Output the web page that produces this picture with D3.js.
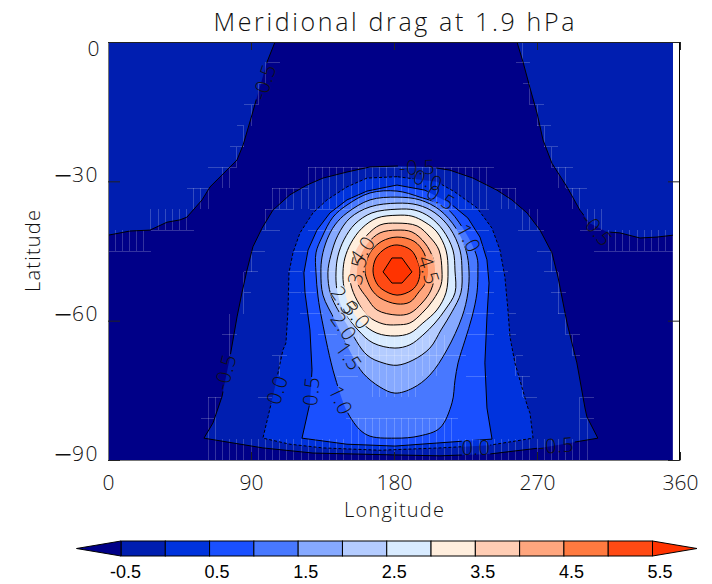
<!DOCTYPE html>
<html><head><meta charset="utf-8">
<script src="https://cdn.jsdelivr.net/npm/d3@7"></script>
<style>html,body{margin:0;padding:0;background:#fff}svg{display:block}</style></head>
<body><div id="c"></div>
<script>
const title="Meridional drag at 1.9 hPa";
const xTicks=[0,90,180,270,360], yTicks=[0,-30,-60,-90];
const levels=[-0.5,0,0.5,1,1.5,2,2.5,3,3.5,4,4.5,5,5.5];
const cbarLabels=[-0.5,0.5,1.5,2.5,3.5,4.5,5.5];
const belowColor="#000088", aboveColor="#ff3300";
const bandColors=["#001eb0","#0033dd","#1a50ff","#4878ff","#86a9ff","#b4ccff","#d8ebff","#ffeedd","#ffcdb4","#ffa67e","#ff7a40","#ff4a14"];
const blobLeft=[[0,0],[105.1,0],[100.1,-4.3],[93.8,-11.8],[90.6,-15.7],[85,-22.2],[81.2,-25.4],[76.8,-26.9],[64.2,-31.2],[59.2,-34],[49.7,-37.7],[45.3,-38.3],[37.1,-38.8],[26.4,-40.5],[13.8,-40.7],[0,-41.6]];
const blobRight=[[355.5,0],[257.4,0],[261.2,-4.3],[265.6,-9.9],[270,-15.3],[273.8,-21.1],[279.4,-26.1],[288.9,-31.2],[297,-36.2],[303.3,-39],[314,-40.9],[322.2,-41.1],[334.8,-42.2],[345.5,-42],[355.5,-41.6]];
const hillM05=[[164.9,-26.9],[150.4,-28],[135.3,-29.3],[125.2,-30.8],[114.5,-32.9],[103.8,-36.2],[96.9,-40.1],[91.2,-44.1],[87.5,-49.1],[84.3,-54],[81.2,-59.2],[76.8,-67.8],[71.7,-76.4],[66.1,-82],[60.4,-85.3],[97.5,-87.4],[129,-88.5],[179.3,-88.9],[208.9,-89.1],[240.4,-88.7],[271.9,-87.4],[308.3,-85.3],[301.4,-80.7],[300.2,-78.8],[295.1,-69.1],[288.9,-60.5],[283.2,-50.6],[279.4,-45.4],[271.9,-40.5],[263.7,-36.8],[254.2,-34],[244.8,-31.9],[229.7,-29.3],[215.2,-27.6],[202.6,-26.9],[181.9,-26.7]];
const hill00=[[181.9,-29],[163,-29.3],[150.4,-31.2],[137.8,-34],[129,-36.8],[120.8,-41.1],[116.4,-45.4],[113.9,-49.7],[113.3,-57.7],[112,-64.8],[110.1,-66.3],[105.1,-74.3],[100.7,-80.7],[97.5,-85.3],[114.5,-86.6],[135.3,-87.4],[171.2,-87.9],[208.9,-87.4],[240.4,-86.8],[267.5,-85.3],[265.6,-79.9],[264.3,-78.8],[256.1,-69.1],[253,-63.5],[251.7,-57.7],[249.8,-50.6],[246.7,-44.8],[241.7,-40.1],[232.2,-35.7],[218.4,-32.3],[207,-30.1]];
const hill05=[[181.9,-30.8],[163,-32.1],[150.4,-34],[139.7,-36.8],[131.5,-40.5],[125.9,-44.8],[123.3,-49.7],[124,-54],[127.1,-62],[128.4,-70.6],[127.1,-77.7],[122.1,-85.3],[150.4,-86.6],[180.6,-87],[208.9,-86.3],[241.7,-85.5],[238.5,-78.8],[237.2,-69.1],[238.5,-59.2],[239.8,-51.9],[238.5,-46.9],[234.1,-42],[226.5,-37.9],[215.2,-34.7],[199.5,-31.9]];
const hill10=[[181.9,-32.1],[164.9,-32.5],[150.4,-35.1],[141.6,-37.7],[134.7,-42],[130.9,-45.4],[130.9,-49.7],[132.2,-54.9],[134.7,-59.9],[142.8,-72.1],[152.3,-80.7],[163,-84.6],[180.6,-85.3],[196.3,-84.8],[208.9,-83.1],[216.5,-77.7],[218.4,-72.8],[220.3,-69.1],[224.7,-64.2],[229.1,-59.2],[232.2,-54],[232.8,-49.3],[232.2,-46.3],[223.4,-40.1],[212.1,-35.5],[196.3,-33.4]];
const hill15=[[181.9,-33.4],[164.9,-34],[150.4,-36.8],[142.8,-39.4],[137.8,-42.6],[134.7,-46.3],[134,-49.7],[135.3,-54.5],[142.8,-59.9],[147.9,-63.5],[154.2,-67.8],[160.5,-71.3],[171.2,-74.3],[180.6,-75.6],[191.9,-74.5],[202.6,-71.7],[213.3,-66.3],[222.8,-59.2],[226.5,-54],[227.2,-49.3],[225.3,-44.8],[219,-40.1],[208.9,-36.2],[196.3,-34]];
const hill20=[[181.9,-34.7],[164.9,-35.5],[152.3,-37.9],[144.7,-41.6],[140.3,-45.9],[138.4,-49.7],[140.3,-54.5],[150.4,-60.9],[163,-67.4],[173.1,-69.1],[181.9,-69.6],[191.9,-68.5],[202.6,-65.9],[209.6,-62],[216.5,-58.1],[222.1,-54],[222.8,-49.3],[221.5,-44.8],[215.2,-40.1],[205.8,-36.8],[195.1,-35.1]];
const hill25=[[181.9,-36],[166.1,-36.8],[155.4,-39.2],[148.5,-42.6],[144.7,-46.1],[143.5,-49.5],[144.1,-53.4],[147.9,-57.7],[157.3,-62],[166.8,-64.8],[180.6,-65.9],[190,-65.2],[198.2,-63.1],[205.8,-60.5],[212.1,-57.7],[218.4,-54],[218.4,-49.3],[217.1,-44.8],[210.8,-40.5],[202.6,-37.7],[193.2,-36.2]];
const hill30=[[181.9,-37.3],[169.3,-37.9],[159.8,-40.1],[152.9,-43.3],[149.1,-46.5],[147.9,-49.5],[148.5,-52.8],[152.3,-57.1],[159.8,-60.5],[169.3,-62.7],[180.6,-63.3],[190,-62.7],[198.2,-60.5],[207,-57.7],[212.7,-54],[214,-49.3],[212.7,-44.8],[207,-40.9],[199.5,-38.8],[191.3,-37.5]];
const hill35=[[181.9,-39],[171.2,-39.4],[163,-41.6],[156.1,-44.8],[152.3,-49.5],[152.9,-52.3],[156.7,-55.6],[163.6,-59],[173.1,-60.7],[181.9,-60.9],[190,-60.5],[197.6,-58.4],[204.5,-55.6],[209.6,-52.3],[210.2,-49.3],[208.3,-44.8],[202.6,-42],[194.5,-39.6]];
const hill40=[[156.7,-49.3],[157.3,-52.1],[163,-55.1],[169.3,-57.7],[181.9,-58.8],[190,-58.4],[197.6,-56.2],[203.3,-53.4],[205.8,-49.5],[204.5,-46.5],[199.5,-43.3],[191.3,-40.9],[181.9,-40.5],[171.2,-41.1],[163.6,-43.3],[158.6,-46.3]];
const hill45=[[161.7,-49.3],[163.6,-51.7],[166.1,-53.4],[171.2,-55.1],[181.9,-56.4],[190,-56],[195.7,-53.8],[200.1,-51.7],[201.4,-49.1],[198.9,-45.4],[192.6,-42.9],[181.9,-42],[172.4,-42.9],[166.1,-44.8],[163,-46.9]];
const hill50=[[166.8,-49.3],[168.7,-51.7],[172.4,-53.2],[181.9,-54.5],[191.3,-53.4],[195.1,-51.7],[196.3,-49.3],[195.1,-47.4],[190.7,-44.8],[181.9,-43.7],[174.9,-44.4],[168.7,-46.5]];
const hill55=[[173.1,-49.5],[178.7,-46.5],[185,-46.5],[191.3,-49.5],[185,-51.9],[178.7,-51.9]];
const hills=[hillM05,hill00,hill05,hill10,hill15,hill20,hill25,hill30,hill35,hill40,hill45,hill50,hill55];
const labelText=["-0.5","-0.5","-0.5","0.0","0.5","1.0","4.0","3.5","4.5","2.5","3.0","2.0","1.5","1.0","0.5","0.0","-0.5","0.0","-0.5"];
const labelLon=[98.2,307.7,194.5,201.4,209.6,227.2,159.8,156.7,202,148.5,156.7,148.5,151.7,146.6,127.7,106.3,73.6,231.6,281.9];
const labelLat=[-8.6,-40.3,-26.9,-29.7,-33.4,-42.2,-44.8,-49.1,-49.1,-55.6,-58.8,-61.2,-67.6,-77.1,-75.2,-74.9,-71.1,-87.4,-86.8];
const labelAngle=[-72,50,-2,18,32,62,-55,-78,72,55,50,55,55,65,-85,-72,-75,0,-4];
// mesh seams: [lat, lon1, lon2] horizontals, [lat1, lat2, lon1, lon2] verticals every 4.5 degrees
const seamH=[[-4.5,99,108],[-9,94.5,99],[-13.5,85.5,94.5],[-18,81,85.5],[-22.5,76.5,85.5],[-27,63,81],[-31.5,49.5,63],[-40.5,27,54],[-45,0,27],
[-4.5,256.5,265.5],[-9,261,265.5],[-13.5,265.5,274.5],[-18,270,279],[-22.5,274.5,283.5],[-27,279,292.5],[-31.5,288,301.5],[-40.5,297,310.5],[-45,306,355.5],
[-27,126,243],[-31.5,103.5,126],[-31.5,243,256.5],[-36,99,117],[-45,90,99],[-45,270,279],[-49.5,85.5,94.5],[-49.5,274.5,283.5],[-54,85.5,90],[-54,279,288],[-58.5,283.5,288],[-63,72,81],[-63,288,297],[-67.5,292.5,297],[-40.5,97,108],[-40.5,258,274.5],[-76.5,63,72],[-81,58.5,67.5],[-76.5,297,306],[-81,297,306],
[-36,127,240],[-45,117,126],[-49.5,113,122],[-54,113,121.5],[-45,238.5,247.5],[-49.5,243,252],[-58.5,252,256.5],[-63,252,256.5],[-67.5,256.5,261],[-72,258,265.5],[-76.5,261,270],[-67.5,103.5,112.5],[-76.5,94.5,103.5],
[-40.5,126,144],[-40.5,220,240],[-49.5,127,144],[-49.5,220,240],[-54,122,131],[-54,237,243],[-58.5,121,135],[-58.5,225,243],[-63,132,144],[-63,225,243],[-67.5,148.5,225],[-72,144,157.5],[-72,225,238.5],[-81,150,220]];
const seamV=[[-4.5,-9,99,103.5],[-9,-13.5,94.5,99],[-13.5,-18,90,94.5],[-18,-22.5,85.5,90],[-22.5,-27,81,85.5],[-27,-31.5,72,81],[-31.5,-36,54,67.5],[-36,-40.5,27,54],[-40.5,-45,0,27],
[0,-4.5,261,265.5],[-9,-13.5,265.5,270],[-13.5,-18,270,274.5],[-18,-22.5,274.5,279],[-22.5,-27,279,283.5],[-27,-31.5,283.5,292.5],[-31.5,-36,292.5,301.5],[-36,-40.5,301.5,315],[-40.5,-45,315,355.5],
[-27,-31.5,126,243],[-31.5,-36,103.5,126],[-31.5,-36,247.5,261],[-36,-40.5,99,103.5],[-36,-40.5,261,274.5],[-45,-49.5,90,94.5],[-45,-49.5,279,283.5],[-49.5,-54,85.5,90],[-49.5,-54,283.5,288],[-54,-58.5,85.5,90],[-54,-58.5,283.5,288],[-58.5,-63,76.5,81],[-58.5,-63,288,292.5],[-63,-67.5,76.5,81],[-63,-67.5,292.5,297],
[-31.5,-36,126,243],[-67.5,-72,108,112.5],[-67.5,-72,256.5,261],[-72,-76.5,261,265.5],[-76.5,-81,63,72],[-81,-85.5,63,72],[-76.5,-81,297,301.5],[-81,-85.5,297,306],
[-63,-67.5,157.5,216],[-67.5,-72,162,211.5],[-72,-76.5,166.5,198],[-81,-85.5,153,220],[-85.5,-90,63,306]];

const W=712,H=584;
const svg=d3.select("#c").append("svg").attr("width",W).attr("height",H).attr("viewBox",[0,0,W,H]);
const thin="'Open Sans','Lato',sans-serif";
const ink="#111";
const x=d3.scaleLinear().domain([0,360]).range([108,680]);
const y=d3.scaleLinear().domain([0,-90]).range([42,460]);
const lineLin=d3.line().x(d=>x(d[0])).y(d=>y(d[1]));
const closedPath=(pts,i)=>{
  const smooth=i>=3&&i<=11;
  return d3.line().x(d=>x(d[0])).y(d=>y(d[1])).curve(smooth?d3.curveCatmullRomClosed.alpha(0.5):d3.curveLinearClosed)(pts);
};
svg.append("rect").attr("x",x(0)).attr("y",y(0)).attr("width",x(355.5)-x(0)).attr("height",y(-90)-y(0)).attr("fill",belowColor);
const fills=svg.append("g");
[blobLeft,blobRight].forEach(p=>fills.append("path").attr("d",closedPath(p,0)).attr("fill",bandColors[0]));
hills.forEach((p,i)=>fills.append("path").attr("d",closedPath(p,i)).attr("fill",i<bandColors.length?bandColors[i]:aboveColor));
// seams
const seams=svg.append("g").attr("stroke","#fff").attr("stroke-opacity",0.2).attr("stroke-width",1).attr("shape-rendering","crispEdges");
seamH.forEach(s=>seams.append("line").attr("x1",x(s[1])).attr("x2",x(s[2])).attr("y1",y(s[0])).attr("y2",y(s[0])));
seamV.forEach(s=>d3.range(s[2],s[3]-0.01,4.5).forEach(l=>seams.append("line").attr("x1",x(l)).attr("x2",x(l)).attr("y1",y(s[0])).attr("y2",y(s[1]))));
// mask cutting contour lines behind their labels
const mask=svg.append("defs").append("mask").attr("id","gaps").attr("maskUnits","userSpaceOnUse").attr("x",0).attr("y",0).attr("width",W).attr("height",H);
mask.append("rect").attr("width",W).attr("height",H).attr("fill","#fff");
labelText.forEach((t,i)=>{
  const w=t.length*9.5;
  mask.append("rect").attr("x",-w/2).attr("y",-8).attr("width",w).attr("height",16).attr("fill","#000")
   .attr("transform",`translate(${x(labelLon[i])},${y(labelLat[i])}) rotate(${labelAngle[i]})`);
});
const strokes=svg.append("g").attr("fill","none").attr("stroke","#000").attr("stroke-width",1).attr("mask","url(#gaps)");
[blobLeft,blobRight].forEach(p=>strokes.append("path").attr("d",lineLin(p.slice(1))));
hills.forEach((p,i)=>strokes.append("path").attr("d",closedPath(p,i)).attr("stroke-dasharray",levels[i]===0?"3,2":null));
// contour labels
labelText.forEach((t,i)=>svg.append("text").text(t).attr("text-anchor","middle").attr("dominant-baseline","central")
  .attr("font-family",thin).attr("font-weight",300).attr("font-size",20).attr("letter-spacing",0.5).attr("fill",ink)
  .attr("transform",`translate(${x(labelLon[i])},${y(labelLat[i])}) rotate(${labelAngle[i]})`));
// axes
const styleAxis=g=>{g.selectAll("text").attr("font-family",thin).attr("font-weight",300).attr("font-size",21).attr("fill",ink);
  g.selectAll("line").attr("stroke","#222");g.select(".domain").attr("stroke","#777");};
svg.append("g").attr("transform",`translate(0,${y(-90)})`).call(d3.axisBottom(x).tickValues(xTicks).tickSizeInner(-8).tickSizeOuter(0).tickPadding(15)).call(styleAxis);
svg.append("g").attr("transform",`translate(0,${y(0)})`).call(d3.axisTop(x).tickValues(xTicks).tickSizeInner(-8).tickSizeOuter(0).tickFormat("")).call(g=>{g.selectAll("line").attr("stroke","#222");g.select(".domain").attr("stroke","#222");});
svg.append("g").attr("transform",`translate(${x(0)},0)`).call(d3.axisLeft(y).tickValues(yTicks).tickSizeInner(-12).tickSizeOuter(0).tickPadding(7).tickFormat(d=>String(Math.abs(d)))).call(styleAxis)
  .call(g=>g.selectAll(".tick text").attr("letter-spacing",1.5).attr("dy",d=>d===0?"0.62em":d===-90?"-0.05em":"0.32em")
    .each(function(d){ if(d>=0) return;
      const t=d3.select(this),digits=t.text();t.text(null);
      t.append("tspan").text("\u2212").attr("font-size",32).attr("dy",5).attr("dx",-2).attr("letter-spacing",0);
      t.append("tspan").text(digits).attr("dy",-5);
    }));
svg.append("g").attr("transform",`translate(${x(360)-1},0)`).call(d3.axisRight(y).tickValues(yTicks).tickSizeInner(-11).tickSizeOuter(0).tickFormat("")).call(g=>{g.selectAll("line").attr("stroke","#222");g.select(".domain").attr("stroke","#000");});
// titles
svg.append("text").text(title).attr("x",394).attr("y",31).attr("text-anchor","middle").attr("font-family",thin).attr("font-weight",300).attr("font-size",25).attr("fill",ink).attr("textLength",361).attr("lengthAdjust","spacing");
svg.append("text").text("Longitude").attr("x",394).attr("y",517).attr("text-anchor","middle").attr("font-family",thin).attr("font-weight",300).attr("font-size",20).attr("fill",ink).attr("textLength",100).attr("lengthAdjust","spacing");
svg.append("text").text("Latitude").attr("transform","translate(40,251) rotate(-90)").attr("text-anchor","middle").attr("font-family",thin).attr("font-weight",300).attr("font-size",20).attr("fill",ink).attr("textLength",82).attr("lengthAdjust","spacing");
// colour bar
const cx=d3.scaleLinear().domain([-0.5,5.5]).range([121,652.5]);
const cbTop=541,cbBot=556,tip=44.5;
const cb=svg.append("g").attr("stroke","#000").attr("stroke-width",1);
const edges=levels.slice(0,-1);
edges.forEach((v,i)=>cb.append("rect").attr("x",cx(v)).attr("y",cbTop).attr("width",cx(levels[i+1])-cx(v)).attr("height",cbBot-cbTop).attr("fill",bandColors[i]));
cb.append("path").attr("d",d3.line()([[cx(-0.5),cbTop],[cx(-0.5)-tip,(cbTop+cbBot)/2],[cx(-0.5),cbBot]])+"Z").attr("fill",belowColor);
cb.append("path").attr("d",d3.line()([[cx(5.5),cbTop],[cx(5.5)+tip,(cbTop+cbBot)/2],[cx(5.5),cbBot]])+"Z").attr("fill",aboveColor);
svg.append("g").selectAll("text").data(cbarLabels).join("text").text(d=>d.toFixed(1))
 .attr("x",d=>cx(d)+20).attr("y",578).attr("text-anchor","end").attr("font-family","'Liberation Sans',Arial,sans-serif").attr("font-size",18).attr("fill","#000");
</script></body></html>
